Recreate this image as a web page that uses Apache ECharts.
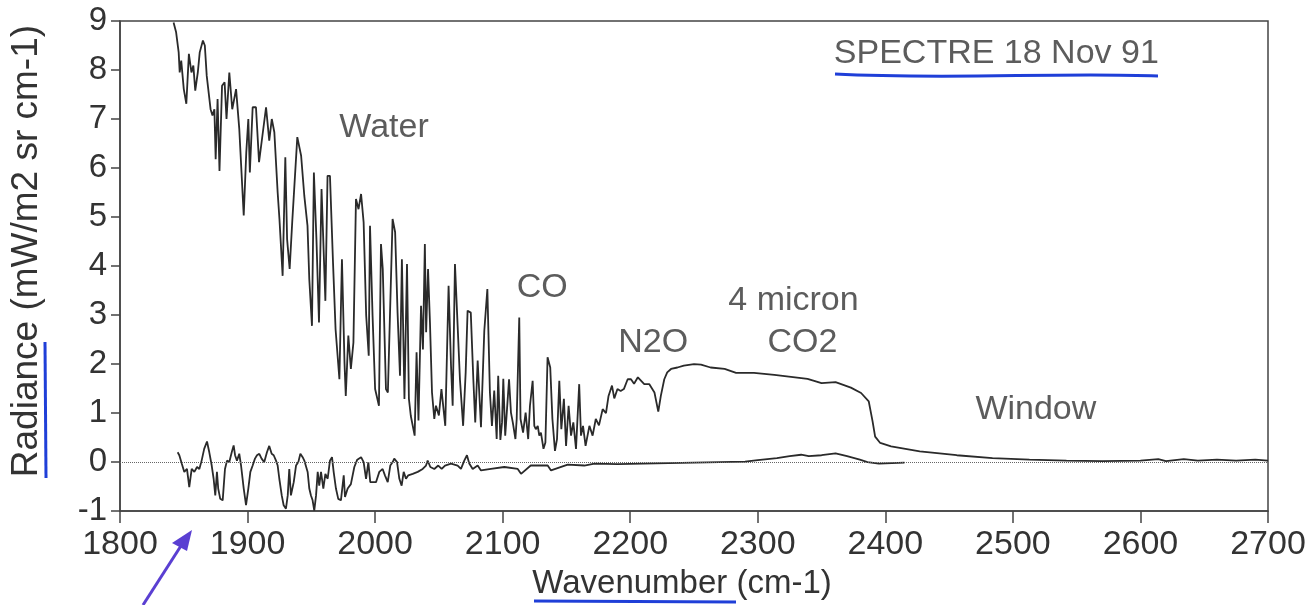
<!DOCTYPE html>
<html>
<head>
<meta charset="utf-8">
<script src="https://cdn.jsdelivr.net/npm/echarts@6/dist/echarts.min.js"></script>
<style>html,body{margin:0;padding:0;background:#fff}#c{width:1311px;height:605px}</style>
</head>
<body>
<div id="c"></div>
<script>
// x ticks / y ticks
const xTicks = [1800,1900,2000,2100,2200,2300,2400,2500,2600,2700];
const yTicks = [-1,0,1,2,3,4,5,6,7,8,9];

// Main spectrum [wavenumber, radiance]
const spectrum = [
[1842,8.97],[1844,8.77],[1846,8.36],[1846.8,7.95],[1848,8.19],[1850,7.61],[1852,7.31],[1854,8.33],
[1856,7.95],[1857.5,8.09],[1859,7.58],[1861,7.95],[1862.5,8.36],[1865,8.6],[1866.5,8.5],[1868,7.88],
[1871,7.2],[1872.5,7.07],[1874,7.2],[1875,6.18],[1876.5,7.41],[1878,5.94],[1880,7.68],[1882,7.75],
[1883.5,7.0],[1885.7,7.95],[1888,7.2],[1891,7.61],[1893.5,6.8],[1897,5.03],[1899,6.32],[1900.6,7.0],
[1901.8,5.91],[1904,7.24],[1906.6,7.24],[1909,6.12],[1912,6.73],[1914.5,7.24],[1917,6.56],[1919,7.0],
[1921,6.73],[1923.6,5.5],[1925,4.96],[1927.5,3.80],[1929.6,6.22],[1931,4.55],[1933,3.94],[1935,4.89],
[1939,6.63],[1942,6.25],[1944.5,5.43],[1947,4.82],[1948.4,3.73],[1950.5,2.78],[1952,5.91],[1954,4.55],
[1956,2.85],[1958,5.57],[1961,3.29],[1962.7,5.84],[1964.6,5.84],[1967,4.07],[1969,2.71],[1972,1.69],
[1974,4.14],[1976,2.03],[1977,1.35],[1979,2.58],[1981,1.90],[1983,2.44],[1985,5.37],[1987,5.16],
[1989,5.47],[1991,4.89],[1993,2.99],[1995,2.17],[1996,4.82],[1998,2.99],[2000,1.49],[2003,1.15],
[2004.6,4.45],[2006,3.94],[2008.5,1.49],[2010,1.42],[2013.7,4.96],[2015.7,4.69],[2017.6,3.05],[2019.5,1.76],
[2021,4.14],[2023,1.29],[2025,4.04],[2026.5,1.29],[2028,0.94],[2031,0.54],[2032.5,2.24],[2034,0.85],
[2036,3.19],[2037.5,2.3],[2039,4.45],[2040,2.65],[2041.5,3.94],[2043,2.85],[2044.6,1.42],[2046.4,0.88],
[2047.7,1.15],[2050,0.95],[2052,1.49],[2055,0.74],[2057.6,3.60],[2059.5,1.97],[2060.8,1.15],[2062.6,4.04],
[2064.7,2.78],[2066.5,1.69],[2069,0.74],[2071,1.83],[2072.5,3.09],[2075,3.05],[2077,1.69],[2078.5,0.81],
[2080.4,2.07],[2083,0.71],[2085.6,2.68],[2088,3.53],[2090,1.42],[2091.6,0.74],[2093.4,1.46],[2095.3,0.47],
[2096.5,1.76],[2098.2,0.45],[2099.5,0.81],[2100.5,1.7],[2102,0.54],[2105,1.69],[2106.5,1.01],[2108,0.8],
[2110,0.47],[2111,0.88],[2113,2.95],[2114,0.88],[2116,0.60],[2118,1.01],[2120,0.47],[2121.4,1.15],
[2123.5,1.66],[2124.8,0.74],[2126,0.67],[2127.5,0.74],[2128.7,0.54],[2130,0.6],[2132,0.27],[2133.5,0.4],
[2135.2,2.14],[2137.3,1.93],[2139,0.88],[2141,0.23],[2142.6,0.47],[2144.4,1.66],[2146,0.67],[2148,1.29],
[2149.7,0.33],[2151.7,1.15],[2153.6,0.54],[2155.4,0.81],[2157.5,0.27],[2160,1.59],[2161.4,0.54],[2163,0.74],
[2165,0.33],[2168,0.74],[2170.5,0.54],[2173,0.88],[2175.5,0.75],[2178.4,1.08],[2181,1.0],[2183,1.35],
[2185.7,1.56],[2187.5,1.3],[2190,1.49],[2192.5,1.45],[2195,1.49],[2198,1.69],[2200.6,1.69],[2203,1.6],
[2206,1.73],[2211,1.59],[2215,1.59],[2219,1.42],[2222,1.03],[2224,1.35],[2226.7,1.69],[2229,1.83],
[2232,1.90],[2237,1.93],[2242,1.97],[2250,2.0],[2255.5,1.99],[2263,1.93],[2274,1.90],[2283,1.82],
[2297,1.82],[2313,1.78],[2339,1.70],[2350,1.61],[2361,1.63],[2373,1.52],[2381,1.41],[2387,1.24],
[2390,0.83],[2392,0.52],[2396,0.39],[2404.5,0.32],[2427,0.22],[2456,0.14],[2484,0.08],[2513,0.05],
[2542,0.03],[2570,0.02],[2600,0.03],[2614,0.06],[2620,0.02],[2634,0.06],[2645,0.03],[2660,0.05],
[2675,0.03],[2690,0.05],[2700,0.03]
];

// Lower (difference) spectrum
const residual = [
[1845.2,0.20],[1846.5,0.14],[1848.4,-0.03],[1850.4,-0.20],[1852.5,-0.14],[1854.3,-0.51],[1856.2,-0.14],[1858.3,-0.20],
[1860.4,-0.10],[1862.2,-0.14],[1864,0.03],[1866,0.27],[1868.2,0.42],[1870,0.20],[1871.9,-0.07],[1873.4,-0.34],
[1874.7,-0.68],[1876,-0.20],[1877,-0.54],[1878.6,-0.75],[1880.5,-0.78],[1882.3,-0.14],[1883.9,0.03],[1885.7,0],
[1887.6,0.20],[1889.1,0.34],[1890.2,0.14],[1891.7,0.03],[1893.5,0.17],[1894.9,-0.07],[1897,-0.54],[1898.8,-0.88],
[1900.6,-0.54],[1902.2,-0.20],[1904,-0.07],[1905.8,0.07],[1907.4,0.14],[1909.2,0.17],[1911,0.07],[1913.1,0],
[1915.2,0.20],[1917,0.33],[1918.9,0.17],[1920.5,0.14],[1922.3,0.03],[1923.6,-0.07],[1924.9,-0.34],[1926.8,-0.68],
[1928.3,-0.88],[1930.1,-0.95],[1931.5,-0.68],[1932.7,-0.14],[1934,-0.68],[1936.2,-0.41],[1938,-0.07],[1939.8,0],
[1941.4,0.17],[1943.2,0.10],[1944.5,0.03],[1945.8,0.07],[1947.1,-0.20],[1948.4,-0.54],[1949.7,-0.68],[1951,-0.78],
[1952.3,-0.99],[1953.7,-0.68],[1955,-0.20],[1956.2,-0.48],[1957.6,-0.20],[1959.4,-0.54],[1961,-0.24],[1962.8,-0.34],
[1964.6,0.03],[1966.2,0.10],[1967.5,-0.20],[1969.3,-0.54],[1971.1,-0.75],[1973.2,-0.78],[1975.4,-0.27],[1976.4,-0.71],
[1978.5,-0.54],[1981,-0.45],[1983.7,-0.1],[1986,0.05],[1989,0.10],[1991,0],[1992.9,-0.34],[1994.7,0],
[1996.2,-0.41],[1998.1,-0.41],[2000.7,-0.41],[2003.3,-0.20],[2005.9,-0.14],[2007.7,-0.27],[2009.9,-0.41],[2011.9,-0.07],
[2013.8,0],[2015,0.07],[2017.2,0],[2019,-0.34],[2020.8,-0.48],[2022.4,-0.20],[2024.2,-0.34],[2026,-0.27],
[2029.5,-0.24],[2033.4,-0.20],[2037.3,-0.14],[2039.9,-0.07],[2041.2,0.03],[2043.3,-0.10],[2046.4,-0.14],[2049.5,-0.07],
[2052.2,-0.14],[2054.8,-0.07],[2059.5,-0.03],[2064.7,-0.07],[2067.3,-0.14],[2069.9,0.03],[2072,0.14],[2073.8,-0.03],
[2076.5,-0.14],[2080.4,-0.07],[2083,-0.17],[2090.8,-0.14],[2101.3,-0.10],[2111.8,-0.14],[2114.4,-0.24],[2122,-0.07],
[2135.3,-0.07],[2137.9,-0.17],[2151,-0.05],[2164,-0.07],[2172,-0.03],[2190,-0.04],[2210,-0.03],[2230,-0.02],
[2250,-0.01],[2270,0],[2290,0.01],[2300,0.04],[2315,0.08],[2325,0.12],[2334,0.15],[2340,0.12],
[2350,0.14],[2361,0.18],[2370,0.12],[2380,0.05],[2386,0],[2395,-0.03],[2405,-0.02],[2415,-0.01]
];

// Text annotations [label, wavenumber, radiance]
const notes = [
["Water",2007,6.82],["CO",2131,3.55],["N2O",2218,2.43],["4 micron",2328,3.30],
["CO2",2335,2.43],["Window",2518,1.07],["SPECTRE 18 Nov 91",2487,8.33]
];

const FONT = "'Liberation Sans', Arial, sans-serif";
const TXT = '#333';
const chart = echarts.init(document.getElementById('c'));
chart.setOption({
  backgroundColor:'#fff',
  animation:false,
  grid:{left:119,right:43,top:21,bottom:93,show:true,borderColor:'#444',borderWidth:1.5,backgroundColor:'transparent'},
  xAxis:{type:'value',min:1800,max:2700,interval:100,
    name:'Wavenumber (cm-1)',nameLocation:'middle',nameGap:52,
    nameTextStyle:{fontFamily:FONT,fontSize:33,color:TXT,padding:[0,24,0,0]},
    axisLine:{onZero:false,lineStyle:{color:'#444',width:1.5}},
    axisTick:{inside:false,length:12,lineStyle:{color:'#444',width:1.5}},
    axisLabel:{margin:17,fontFamily:FONT,fontSize:34,color:TXT,formatter:v=>String(v)},
    splitLine:{show:false}},
  yAxis:{type:'value',min:-1,max:9,interval:1,
    name:'Radiance (mW/m2 sr cm-1)',nameLocation:'middle',nameGap:75,
    nameTextStyle:{fontFamily:FONT,fontSize:37,color:TXT,padding:[0,0,0,30]},
    axisLine:{onZero:false,lineStyle:{color:'#444',width:1.5}},
    axisTick:{inside:false,length:9,lineStyle:{color:'#444',width:1.5}},
    axisLabel:{margin:13,fontFamily:FONT,fontSize:33,color:TXT,formatter:v=>String(v)},
    splitLine:{show:false}},
  series:[
    {type:'line',data:spectrum,symbol:'none',lineStyle:{color:'#2a2a2a',width:1.8},z:3},
    {type:'line',data:residual,symbol:'none',lineStyle:{color:'#2a2a2a',width:1.8},z:3,
      markLine:{silent:true,symbol:'none',label:{show:false},
        lineStyle:{color:'#666',type:'dotted',width:1},data:[{yAxis:0}]}},
    {type:'scatter',data:notes.map(n=>({value:[n[1],n[2]],name:n[0]})),symbolSize:0,silent:true,
      label:{show:true,position:'inside',formatter:p=>p.name,fontFamily:FONT,fontSize:34,color:TXT},z:4}
  ],
  graphic:[
    {type:'bezierCurve',shape:{x1:835,y1:74,x2:1158,y2:76,cpx1:950,cpy1:80,cpx2:1060,cpy2:72},
      style:{stroke:'#1f3fd8',lineWidth:3,fill:null}},
    {type:'line',shape:{x1:45,y1:342,x2:46,y2:478},style:{stroke:'#1f3fd8',lineWidth:3}},
    {type:'line',shape:{x1:534,y1:601,x2:736,y2:602},style:{stroke:'#1f3fd8',lineWidth:3}},
    {type:'line',shape:{x1:143,y1:605,x2:186,y2:538},style:{stroke:'#5a3fd2',lineWidth:3}},
    {type:'polygon',shape:{points:[[192,530],[172,543],[187,551]]},style:{fill:'#5a3fd2'}}
  ]
});
</script>
</body>
</html>
